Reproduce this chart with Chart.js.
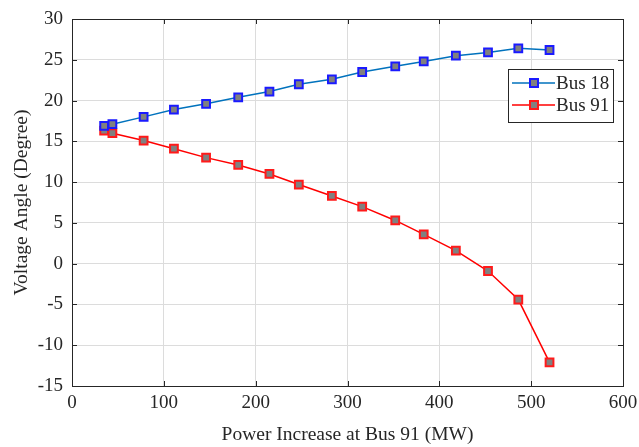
<!DOCTYPE html>
<html>
<head>
<meta charset="utf-8">
<script src="https://cdn.jsdelivr.net/npm/chart.js@4.4.0/dist/chart.umd.min.js"></script>
<style>
  html, body { margin: 0; padding: 0; background: #fff; }
  #wrap { width: 639px; height: 447px; }
</style>
</head>
<body>
<div id="wrap"><canvas id="line-chart" width="639" height="447"></canvas></div>
<script>
// power increase at bus 91 (MW)
var power_mw = [35, 44, 78, 111, 146, 181, 215, 247, 283, 316, 352, 383, 418, 453, 486, 520];
// voltage angles (degree)
var bus_18 = [16.9, 17.1, 18.0, 18.9, 19.6, 20.4, 21.1, 22.0, 22.6, 23.5, 24.2, 24.8, 25.5, 25.9, 26.4, 26.2];
var bus_91 = [16.3, 16.0, 15.1, 14.1, 13.0, 12.1, 11.0, 9.7, 8.3, 7.0, 5.3, 3.6, 1.6, -0.9, -4.4, -12.1];
var series_names = ["Bus 18", "Bus 91"];
var x_ticks = [0, 100, 200, 300, 400, 500, 600];
var y_ticks = [-15, -10, -5, 0, 5, 10, 15, 20, 25, 30];

var font_name = "'Liberation Serif', 'Times New Roman', serif";
var axis_color = "#262626";

function to_points(values) {
  var out = [];
  for (i = 0; i < values.length; i++) {
    out.push({ x: power_mw[i], y: values[i] });
  }
  return out;
}

// box round the plot with inward ticks, like matlab
var box_plugin = {
  id: 'box_plugin',
  afterDraw: function(chart) {
    var ctx = chart.ctx;
    var a = chart.chartArea;
    var xs = chart.scales.x, ys = chart.scales.y;
    ctx.save();
    ctx.strokeStyle = axis_color;
    ctx.lineWidth = 1;
    ctx.strokeRect(Math.round(a.left) + 0.5, Math.round(a.top) + 0.5,
                   Math.round(a.right - a.left), Math.round(a.bottom - a.top));
    var len = 5;
    ctx.beginPath();
    x_ticks.forEach(function(v) {
      var px = Math.round(xs.getPixelForValue(v)) + 0.5;
      ctx.moveTo(px, a.bottom); ctx.lineTo(px, a.bottom - len);
      ctx.moveTo(px, a.top); ctx.lineTo(px, a.top + len);
    });
    y_ticks.forEach(function(v) {
      var py = Math.round(ys.getPixelForValue(v)) + 0.5;
      ctx.moveTo(a.left, py); ctx.lineTo(a.left + len, py);
      ctx.moveTo(a.right, py); ctx.lineTo(a.right - len, py);
    });
    ctx.stroke();

    // legend inside the plot, top right
    var bx = a.right - 115, by = a.top + 50, bw = 105, bh = 53;
    ctx.fillStyle = '#fff';
    ctx.fillRect(bx, by, bw, bh);
    ctx.strokeRect(Math.round(bx) + 0.5, Math.round(by) + 0.5, bw, bh);
    chart.data.datasets.forEach(function(ds, k) {
      var cy = by + 14 + k * 22;
      ctx.strokeStyle = ds.borderColor;
      ctx.lineWidth = 1.5;
      ctx.beginPath();
      ctx.moveTo(bx + 4, cy); ctx.lineTo(bx + 47, cy);
      ctx.stroke();
      ctx.fillStyle = ds.pointBackgroundColor;
      ctx.strokeStyle = ds.pointBorderColor;
      ctx.lineWidth = 2;
      ctx.fillRect(bx + 22, cy - 4, 8, 8);
      ctx.strokeRect(bx + 22, cy - 4, 8, 8);
      ctx.fillStyle = axis_color;
      ctx.font = "19px " + font_name;
      ctx.textBaseline = 'middle';
      ctx.fillText(ds.label, bx + 48, cy + 1);
    });
    ctx.restore();
  }
};

new Chart(document.getElementById("line-chart"), {
  type: 'line',
  data: {
    datasets: [
      {
        label: series_names[0],
        data: to_points(bus_18),
        borderColor: '#0072BD',
        borderWidth: 1.5,
        pointStyle: 'rect',
        pointRadius: 5.5,
        pointBorderWidth: 2,
        pointBackgroundColor: '#808080',
        pointBorderColor: '#1a1aff',
        tension: 0
      },
      {
        label: series_names[1],
        data: to_points(bus_91),
        borderColor: '#ff0000',
        borderWidth: 1.5,
        pointStyle: 'rect',
        pointRadius: 5.5,
        pointBorderWidth: 2,
        pointBackgroundColor: '#808080',
        pointBorderColor: '#ff1a1a',
        tension: 0
      }
    ]
  },
  options: {
    responsive: false,
    animation: false,
    layout: { padding: { top: 19, right: 16, left: 0, bottom: 0 } },
    plugins: { legend: { display: false }, tooltip: { enabled: false } },
    scales: {
      x: {
        type: 'linear',
        min: 0, max: 600,
        afterBuildTicks: function(s) { s.ticks = x_ticks.map(function(v) { return { value: v }; }); },
        afterFit: function(s) { s.height = 61; s.paddingLeft = 0; s.paddingRight = 0; },
        grid: { color: '#dcdcdc', drawTicks: false },
        border: { display: false },
        ticks: { color: axis_color, font: { family: font_name, size: 19 }, padding: 6, maxRotation: 0 },
        title: { display: true, text: 'Power Increase at Bus 91 (MW)', color: axis_color,
                 font: { family: font_name, size: 19.5 }, padding: { top: 0, bottom: 0 } }
      },
      y: {
        type: 'linear',
        min: -15, max: 30,
        afterBuildTicks: function(s) { s.ticks = y_ticks.map(function(v) { return { value: v }; }); },
        afterFit: function(s) { s.width = 72; s.paddingTop = 0; s.paddingBottom = 0; },
        grid: { color: '#dcdcdc', drawTicks: false },
        border: { display: false },
        ticks: { color: axis_color, font: { family: font_name, size: 19 }, padding: 9 },
        title: { display: true, text: 'Voltage Angle (Degree)', color: axis_color,
                 font: { family: font_name, size: 19.5 }, padding: { top: 10, bottom: 0 } }
      }
    }
  },
  plugins: [box_plugin]
});
</script>
</body>
</html>
